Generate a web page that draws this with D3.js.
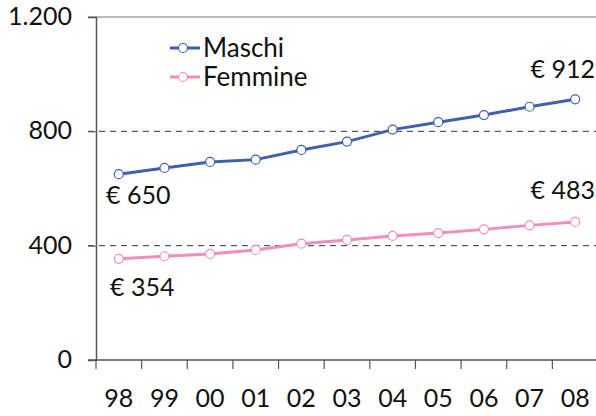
<!DOCTYPE html>
<html>
<head>
<meta charset="utf-8">
<script src="https://cdn.jsdelivr.net/npm/d3@7"></script>
<style>
  body { margin: 0; background: #fff; }
  svg text { font-family: Lato, "Open Sans", sans-serif; fill: #111; }
</style>
</head>
<body>
<svg id="chart"></svg>
<script>
// data
const years = ["98", "99", "00", "01", "02", "03", "04", "05", "06", "07", "08"];
const maschi = [650, 672, 693, 701, 735, 764, 806, 832, 857, 886, 912];
const femmine = [354, 363, 371, 385, 407, 420, 434, 444, 457, 471, 483];
const yTicks = [0, 400, 800, 1200];

const series = [
    { name: "Maschi", color: "#3f60b0", values: maschi },
    { name: "Femmine", color: "#f28dbd", values: femmine }
];

const W = 596, H = 416;
const margin = { top: 17, right: -2, bottom: 56, left: 96 };
const width = W - margin.left - margin.right;
const height = H - margin.top - margin.bottom;

const svg = d3.select("#chart").attr("width", W).attr("height", H);
const g = svg.append("g").attr("transform", `translate(${margin.left},${margin.top})`);

const x = d3.scaleBand().domain(years).range([0, width]);
const y = d3.scaleLinear().domain([0, 1200]).range([height, 0]);
const fmt = d => d3.format(",")(d).replace(",", ".");

// horizontal reference lines
g.selectAll(".hline")
    .data(yTicks.filter(d => d > 0))
    .enter().append("line")
    .attr("x1", -8).attr("x2", width)
    .attr("y1", d => y(d)).attr("y2", d => y(d))
    .attr("stroke", d => d === 1200 ? "#777" : "#333")
    .attr("stroke-width", 1)
    .attr("stroke-dasharray", d => d === 1200 ? null : "6,5");

// y axis
const yAxis = g.append("g")
    .call(d3.axisLeft(y).tickValues(yTicks).tickSize(8).tickPadding(16).tickFormat(fmt));
yAxis.select(".domain").attr("stroke", "#555").attr("stroke-width", 1.5);
yAxis.selectAll(".tick line").attr("stroke", "#555");
yAxis.selectAll("text").style("font-size", "25px").attr("dy", "0.3em");

// x axis, ticks on band boundaries
const xAxis = g.append("g").attr("transform", `translate(0,${height})`);
xAxis.append("line").attr("x1", -8).attr("x2", width).attr("stroke", "#555").attr("stroke-width", 1.5);
xAxis.selectAll(".xt")
    .data(years)
    .enter().append("line")
    .attr("x1", d => x(d)).attr("x2", d => x(d))
    .attr("y1", 0).attr("y2", 9)
    .attr("stroke", "#555").attr("stroke-width", 1.2);
xAxis.selectAll(".xl")
    .data(years)
    .enter().append("text")
    .attr("x", d => x(d) + x.bandwidth() / 2)
    .attr("y", 47)
    .attr("text-anchor", "middle")
    .style("font-size", "25px")
    .text(d => d);

const line = d3.line()
    .x((d, i) => x(years[i]) + x.bandwidth() / 2)
    .y(d => y(d));

series.forEach(s => {
    g.append("path")
        .datum(s.values)
        .attr("d", line)
        .attr("fill", "none")
        .attr("stroke", s.color)
        .attr("stroke-width", 3);

    g.selectAll(null)
        .data(s.values)
        .enter().append("circle")
        .attr("cx", (d, i) => x(years[i]) + x.bandwidth() / 2)
        .attr("cy", d => y(d))
        .attr("r", 4.5)
        .attr("fill", "#fff")
        .attr("stroke", s.color)
        .attr("stroke-width", 1.2);
});

// end value labels
const last = years.length - 1;
const labels = [
    { text: "€ " + maschi[0], x: x(years[0]) + 10, y: y(maschi[0]) + 30, anchor: "start" },
    { text: "€ " + femmine[0], x: x(years[0]) + 14, y: y(femmine[0]) + 37, anchor: "start" },
    { text: "€ " + maschi[last], x: width - 3, y: y(maschi[last]) - 21, anchor: "end" },
    { text: "€ " + femmine[last], x: width - 3, y: y(femmine[last]) - 23, anchor: "end" }
];
g.selectAll(".vlabel")
    .data(labels)
    .enter().append("text")
    .attr("x", d => d.x)
    .attr("y", d => d.y)
    .attr("text-anchor", d => d.anchor)
    .style("font-size", "25px")
    .text(d => d.text);

// legend
const legend = svg.append("g").attr("transform", "translate(170,48)");
series.forEach((s, i) => {
    const row = legend.append("g").attr("transform", `translate(0,${i * 29})`);
    row.append("line").attr("x1", 0).attr("x2", 30).attr("stroke", s.color).attr("stroke-width", 3);
    row.append("circle").attr("cx", 13).attr("r", 4.5).attr("fill", "#fff")
        .attr("stroke", s.color).attr("stroke-width", 1.2);
    row.append("text").attr("x", 33).attr("y", 9)
        .style("font-size", "26px").text(s.name);
});
</script>
</body>
</html>
